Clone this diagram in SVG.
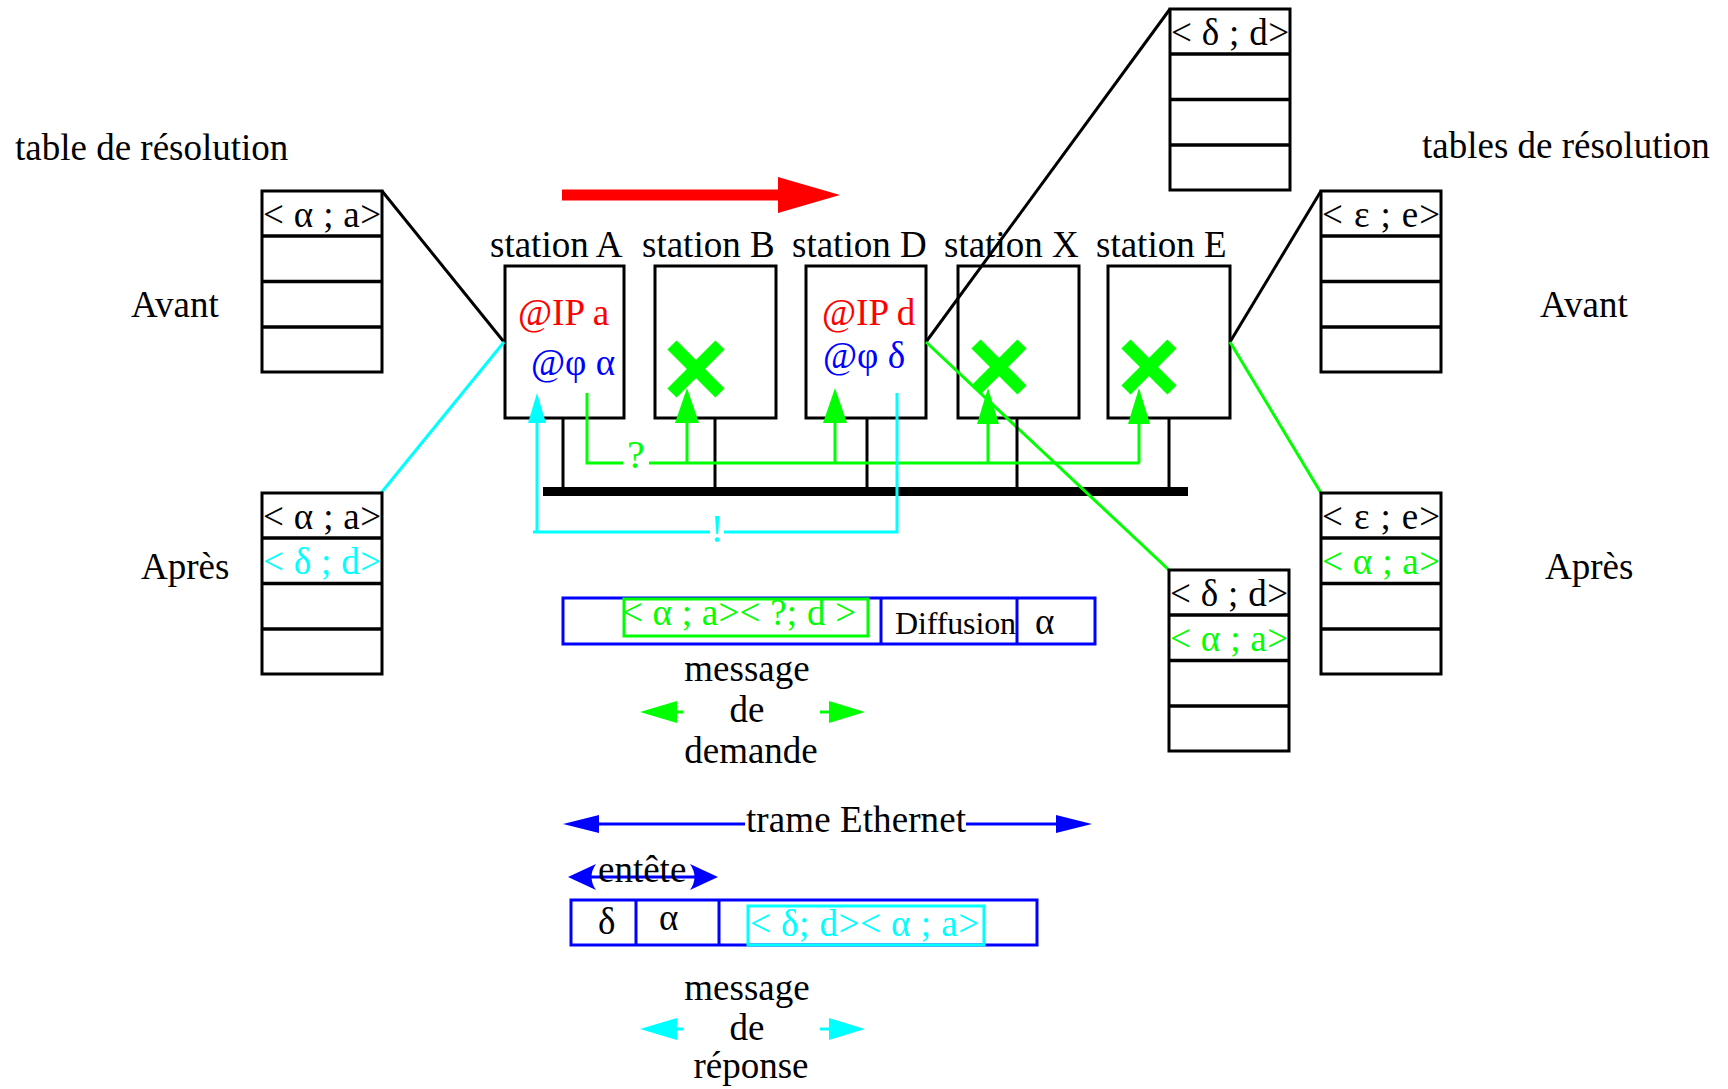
<svg xmlns="http://www.w3.org/2000/svg" width="1728" height="1089" viewBox="0 0 1728 1089">
<style>
  text { font-family: "Liberation Serif", "Times New Roman", serif; font-size: 37px; fill: #000; }
  .sm { font-size: 32px; }
  .red { fill: #ff0000; }
  .blue { fill: #0000ff; }
  .grn { fill: #00ff00; }
  .cyn { fill: #00ffff; }
  .box { fill: #fff; stroke: #000; stroke-width: 3; }
  .sbox { fill: none; stroke: #000; stroke-width: 3; }
  .row { stroke: #000; stroke-width: 3.5; }
  .bk { stroke: #000; stroke-width: 3; fill: none; }
  .gl { stroke: #00ff00; stroke-width: 3; fill: none; }
  .cl { stroke: #00ffff; stroke-width: 3; fill: none; }
  .bl { stroke: #0000ff; stroke-width: 3; fill: none; }
  .frame { fill: none; stroke: #0000ff; stroke-width: 3; }
  .cross { stroke: #00ff00; stroke-width: 13; }
</style>
<defs>
  <g id="tbl">
    <rect class="box" x="0" y="0" width="120" height="181"/>
    <line class="row" x1="0" y1="45" x2="120" y2="45"/>
    <line class="row" x1="0" y1="90.5" x2="120" y2="90.5"/>
    <line class="row" x1="0" y1="136" x2="120" y2="136"/>
  </g>
</defs>

<!-- free labels -->
<g id="labels">
  <text x="15" y="160">table de résolution</text>
  <text x="1422" y="158">tables de résolution</text>
  <text x="131" y="317">Avant</text>
  <text x="141" y="579">Après</text>
  <text x="1540" y="317">Avant</text>
  <text x="1545" y="579">Après</text>
</g>

<!-- bus -->
<g id="bus">
  <rect x="543" y="487" width="645" height="9" fill="#000"/>
</g>

<!-- stations -->
<g id="stationA">
  <text x="490" y="257">station A</text>
  <rect class="sbox" x="505" y="266" width="119" height="152"/>
  <text class="red" x="518" y="325">@IP a</text>
  <text class="blue" x="531" y="375">@φ α</text>
</g>
<g id="stationB">
  <text x="642" y="257">station B</text>
  <rect class="sbox" x="655" y="266" width="121" height="152"/>
  <line class="cross" x1="672" y1="345" x2="720" y2="393"/>
  <line class="cross" x1="720" y1="345" x2="672" y2="393"/>
</g>
<g id="stationD">
  <text x="792" y="257">station D</text>
  <rect class="sbox" x="806" y="266" width="120" height="152"/>
  <text class="red" x="822" y="325">@IP d</text>
  <text class="blue" x="823" y="368">@φ δ</text>
</g>
<g id="stationX">
  <text x="944" y="257">station X</text>
  <rect class="sbox" x="958" y="266" width="121" height="152"/>
  <line class="cross" x1="976" y1="344" x2="1022" y2="390"/>
  <line class="cross" x1="1022" y1="344" x2="976" y2="390"/>
</g>
<g id="stationE">
  <text x="1096" y="257">station E</text>
  <rect class="sbox" x="1108" y="266" width="122" height="152"/>
  <line class="cross" x1="1126" y1="344" x2="1172" y2="390"/>
  <line class="cross" x1="1172" y1="344" x2="1126" y2="390"/>
</g>

<!-- connectors -->
<g id="connectors">
  <!-- table links -->
  <line class="bk" x1="504" y1="342" x2="382" y2="191"/>
  <line class="cl" x1="504" y1="342" x2="381" y2="493"/>
  <line class="bk" x1="926" y1="342" x2="1170" y2="9"/>
  <line class="gl" x1="926" y1="342" x2="1169" y2="570"/>
  <line class="bk" x1="1230" y1="342" x2="1321" y2="191"/>
  <line class="gl" x1="1230" y1="342" x2="1321" y2="493"/>
  <!-- bus drops -->
  <line class="bk" x1="563" y1="418" x2="563" y2="489"/>
  <line class="bk" x1="715" y1="418" x2="715" y2="489"/>
  <line class="bk" x1="867" y1="418" x2="867" y2="489"/>
  <line class="bk" x1="1017" y1="418" x2="1017" y2="489"/>
  <line class="bk" x1="1169" y1="418" x2="1169" y2="489"/>
  <!-- green broadcast -->
  <path class="gl" d="M587,393 V463 H623 M649,463 H1139 M687,463 V420 M835,463 V420 M988,463 V420 M1139,463 V420"/>
  <polygon class="grn" points="687,388 675,423 699,423"/>
  <polygon class="grn" points="835,388 823,423 847,423"/>
  <polygon class="grn" points="988,388 977,424 999,424"/>
  <polygon class="grn" points="1139,388 1128,424 1150,424"/>
  <text class="grn" x="636" y="468" text-anchor="middle" style="font-size:40px">?</text>
  <!-- cyan reply -->
  <path class="cl" d="M897,393 V532 H724 M710,532 H533 M537,532 V420"/>
  <polygon class="cyn" points="537,393 528,423 546,423"/>
  <text class="cyn" x="717" y="542" text-anchor="middle" style="font-size:40px">!</text>
  <!-- red direction arrow -->
  <line x1="562" y1="195" x2="780" y2="195" stroke="#ff0000" stroke-width="11"/>
  <polygon points="778,177 840,195 778,213" fill="#ff0000"/>
  <!-- demande arrows -->
  <line class="gl" x1="670" y1="712" x2="683" y2="712"/>
  <polygon class="grn" points="640,712 677,701 677,723"/>
  <line class="gl" x1="820" y1="712" x2="832" y2="712"/>
  <polygon class="grn" points="865,712 829,701 829,723"/>
  <!-- trame Ethernet -->
  <path class="bl" d="M595,824 H745 M966,824 H1060"/>
  <polygon class="blue" points="563,824 599,815 599,833"/>
  <polygon class="blue" points="1092,824 1056,815 1056,833"/>
  <!-- entete -->
  <line class="bl" x1="575" y1="877" x2="711" y2="877"/>
  <path class="blue" d="M568,877 L596,864 Q587,877 596,890 Z"/>
  <path class="blue" d="M718,877 L690,864 Q699,877 690,890 Z"/>
  <!-- reponse arrows -->
  <line class="cl" x1="670" y1="1029" x2="683" y2="1029"/>
  <polygon class="cyn" points="640,1029 677,1018 677,1040"/>
  <line class="cl" x1="820" y1="1029" x2="832" y2="1029"/>
  <polygon class="cyn" points="865,1029 829,1018 829,1040"/>
</g>

<!-- resolution tables -->
<g id="tableA-avant">
  <use href="#tbl" x="262" y="191"/>
  <text x="263" y="227" textLength="118">&lt; α ; a&gt;</text>
</g>
<g id="tableA-apres">
  <use href="#tbl" x="262" y="493"/>
  <text x="263" y="529" textLength="118">&lt; α ; a&gt;</text>
  <text class="cyn" x="263" y="574" textLength="118">&lt; δ ; d&gt;</text>
</g>
<g id="tableD-avant">
  <use href="#tbl" x="1170" y="9"/>
  <text x="1171" y="45" textLength="118">&lt; δ ; d&gt;</text>
</g>
<g id="tableD-apres">
  <use href="#tbl" x="1169" y="570"/>
  <text x="1170" y="606" textLength="118">&lt; δ ; d&gt;</text>
  <text class="grn" x="1170" y="651" textLength="118">&lt; α ; a&gt;</text>
</g>
<g id="tableE-avant">
  <use href="#tbl" x="1321" y="191"/>
  <text x="1322" y="227" textLength="118">&lt; ε ; e&gt;</text>
</g>
<g id="tableE-apres">
  <use href="#tbl" x="1321" y="493"/>
  <text x="1322" y="529" textLength="118">&lt; ε ; e&gt;</text>
  <text class="grn" x="1322" y="574" textLength="118">&lt; α ; a&gt;</text>
</g>

<!-- request frame -->
<g id="frame-demande">
  <rect class="frame" x="563" y="598" width="532" height="46"/>
  <line class="bl" x1="881" y1="598" x2="881" y2="644"/>
  <line class="bl" x1="1017" y1="598" x2="1017" y2="644"/>
  <rect x="624" y="599" width="244" height="37" fill="none" stroke="#00ff00" stroke-width="3"/>
  <text class="grn" x="622" y="625" textLength="234">&lt; α ; a&gt;&lt; ?; d &gt;</text>
  <text class="sm" x="895" y="634" textLength="121">Diffusion</text>
  <text x="1035" y="634">α</text>
  <text x="747" y="681" text-anchor="middle">message</text>
  <text x="747" y="722" text-anchor="middle">de</text>
  <text x="751" y="763" text-anchor="middle">demande</text>
</g>

<g id="trame-label">
  <text x="746" y="832" textLength="220">trame Ethernet</text>
  <text x="598" y="882">entête</text>
</g>

<!-- response frame -->
<g id="frame-reponse">
  <rect class="frame" x="571" y="900" width="466" height="45"/>
  <line class="bl" x1="636" y1="900" x2="636" y2="945"/>
  <line class="bl" x1="719" y1="900" x2="719" y2="945"/>
  <rect x="748" y="906" width="236" height="39" fill="none" stroke="#00ffff" stroke-width="3"/>
  <text x="598" y="934">δ</text>
  <text x="659" y="930">α</text>
  <text class="cyn" x="750" y="936" textLength="229">&lt; δ; d&gt;&lt; α ; a&gt;</text>
  <text x="747" y="1000" text-anchor="middle">message</text>
  <text x="747" y="1040" text-anchor="middle">de</text>
  <text x="751" y="1078" text-anchor="middle">réponse</text>
</g>
</svg>
